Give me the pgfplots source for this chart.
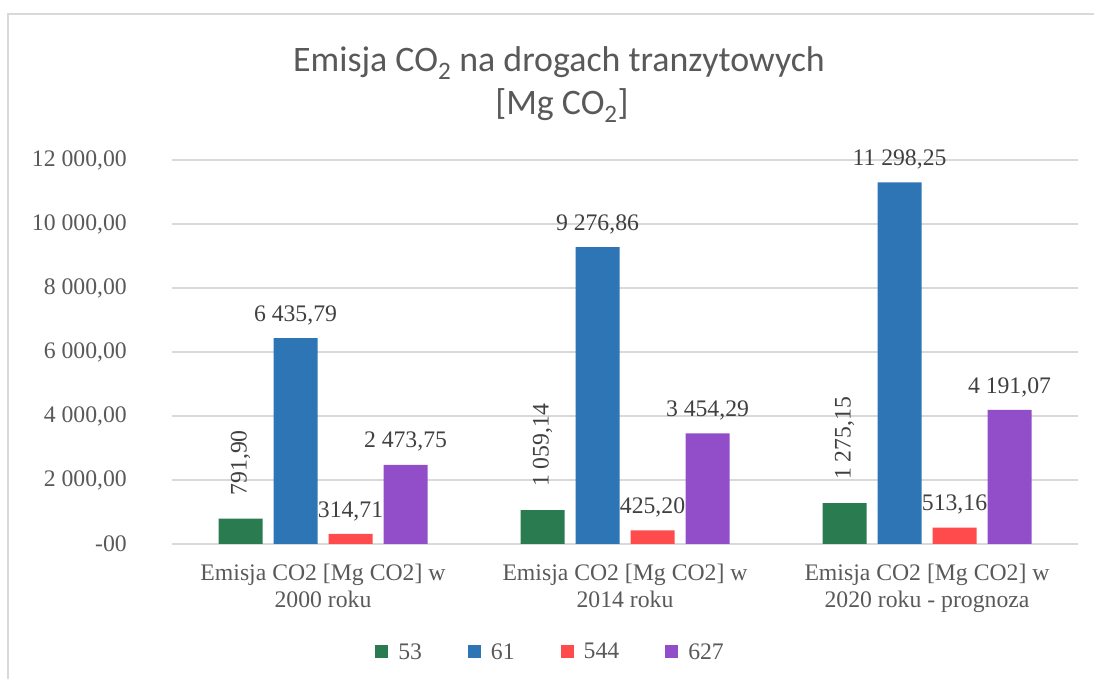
\documentclass[border=0pt]{standalone}
\usepackage{fontspec}
\setmainfont{Liberation Serif}
\newfontfamily\titlefont{Carlito}
\usepackage{pgfplots}
\pgfplotsset{compat=1.18}
\definecolor{cgreen}{RGB}{42,123,80}
\definecolor{cblue}{RGB}{46,117,182}
\definecolor{cred}{RGB}{255,75,75}
\definecolor{cpurple}{RGB}{146,78,200}
\definecolor{gridc}{RGB}{217,217,217}
\definecolor{txt}{RGB}{89,89,89}
\definecolor{vtxt}{RGB}{64,64,64}
\newcommand{\lblfont}{\fontsize{23.8}{27}\selectfont}
\begin{document}
\begin{tikzpicture}[x=1bp,y=1bp]
\useasboundingbox (0,0) rectangle (1094,679);
\draw[gridc, line width=1.3bp] (8,-20) -- (8,665) -- (1130,665);
\node[anchor=base, font=\titlefont\fontsize{36}{43}\selectfont, text=txt, inner sep=0pt] at (559,607) {Emisja CO\textsubscript{2} na drogach tranzytowych};
\node[anchor=base, font=\titlefont\fontsize{36}{43}\selectfont, text=txt, inner sep=0pt] at (562,564) {[Mg CO\textsubscript{2}]};
\begin{axis}[
  at={(172bp,135bp)}, anchor=south west,
  scale only axis, width=906bp, height=384bp,
  xmin=-0.5, xmax=2.5, ymin=0, ymax=12000,
  scaled y ticks=false,
  ybar, bar width=44bp,
  axis line style={draw=none},
  major tick length=0pt,
  ymajorgrids, grid style={gridc, line width=1.3bp},
  ytick={0,2000,4000,6000,8000,10000,12000},
  yticklabels={-00,{2 000,00},{4 000,00},{6 000,00},{8 000,00},{10 000,00},{12 000,00}},
  yticklabel style={font=\lblfont, text=txt, anchor=east, inner sep=0pt, xshift=-45bp},
  xtick={0,1,2},
  xticklabels={{Emisja CO2 [Mg CO2] w\\2000 roku},{Emisja CO2 [Mg CO2] w\\2014 roku},{Emisja CO2 [Mg CO2] w\\2020 roku - prognoza}},
  xticklabel style={font=\lblfont, text=txt, align=center, anchor=north, inner sep=0pt, yshift=-20bp},
  point meta=explicit symbolic,
  nodes near coords,
  every node near coord/.append style={font=\lblfont, text=vtxt, inner sep=0pt, anchor=south, yshift=13bp},
  legend columns=4,
  legend style={at={(0.4167,-0.281)}, anchor=center, draw=none, fill=none, font=\lblfont, text=txt,
    nodes={inner sep=0pt},
    /tikz/every odd column/.append style={column sep=10bp},
    /tikz/every even column/.append style={column sep=46bp}},
  legend image code/.code={\fill[#1] (0bp,-6.5bp) rectangle (13bp,6.5bp);},
  clip=false,
]
\addplot[fill=cgreen, draw=none, bar shift=-82.5bp,
  every node near coord/.append style={yshift=10bp, rotate=90, anchor=west}]
  coordinates {(0,791.90) [791,90] (1,1059.14) [1 059,14] (2,1275.15) [1 275,15]};
\addplot[fill=cblue, draw=none, bar shift=-27.5bp]
  coordinates {(0,6435.79) [6 435,79] (1,9276.86) [9 276,86] (2,11298.25) [11 298,25]};
\addplot[fill=cred, draw=none, bar shift=27.5bp]
  coordinates {(0,314.71) [314,71] (1,425.20) [425,20] (2,513.16) [513,16]};
\addplot[fill=cpurple, draw=none, bar shift=82.5bp]
  coordinates {(0,2473.75) [2 473,75] (1,3454.29) [3 454,29] (2,4191.07) [4 191,07]};
\legend{53,61,544,627}
\end{axis}
\end{tikzpicture}
\end{document}
